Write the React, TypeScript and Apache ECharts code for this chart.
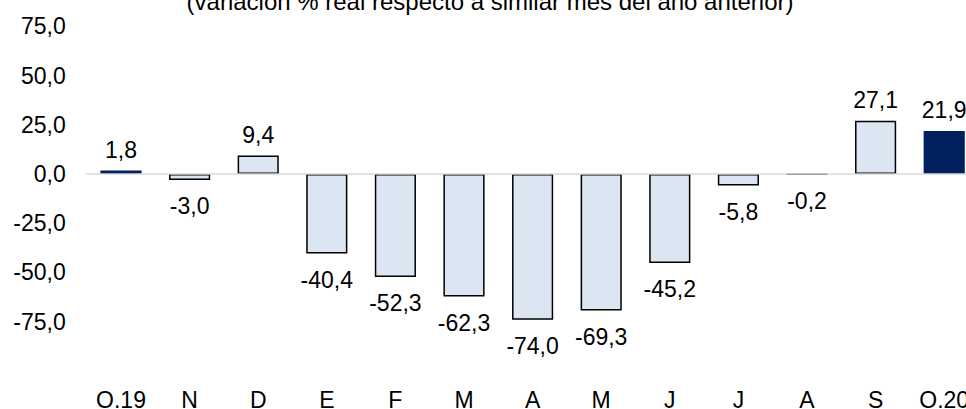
import React, { useEffect, useRef } from 'react';
import * as echarts from 'echarts';

const chartTitle = '(variación % real respecto a similar mes del año anterior)';
const categories = ['O.19', 'N', 'D', 'E', 'F', 'M', 'A', 'M', 'J', 'J', 'A', 'S', 'O.20'];
const values = [1.8, -3.0, 9.4, -40.4, -52.3, -62.3, -74.0, -69.3, -45.2, -5.8, -0.2, 27.1, 21.9];
const highlightedIndexes = [0, 12];
const yMin = -75;
const yMax = 75;
const yInterval = 25;

const FONT = '"Liberation Sans", Arial, Helvetica, sans-serif';
const fmt = (v: number) => v.toFixed(1).replace('.', ',');

export default function App() {
  const ref = useRef<HTMLDivElement>(null);
  useEffect(() => {
    if (!ref.current) return;
    const chart = echarts.init(ref.current, undefined, { renderer: 'svg' });
    chart.setOption({
      animation: false,
      backgroundColor: '#ffffff',
      textStyle: { fontFamily: FONT },
      grid: {
        left: 86.7,
        top: 26.4,
        width: 891.8,
        height: 295.2,
        containLabel: false,
        outerBoundsMode: 'none',
      },
      graphic: [
        {
          type: 'text',
          x: 490,
          y: 1.6,
          style: {
            text: chartTitle,
            fontSize: 24,
            fontFamily: FONT,
            fill: '#000',
            align: 'center',
            verticalAlign: 'middle',
          },
        },
      ],
      xAxis: [
        {
          type: 'category',
          data: categories,
          position: 'bottom',
          axisLine: { show: false, onZero: false },
          axisTick: { show: false },
          axisLabel: { margin: 67, color: '#000', fontSize: 23, fontFamily: FONT, interval: 0 },
          splitLine: { show: false },
        },
        {
          type: 'category',
          data: categories,
          position: 'bottom',
          z: 10,
          axisLine: { show: true, onZero: true, lineStyle: { color: '#d9d9d9', width: 1.5 } },
          axisTick: { show: false },
          axisLabel: { show: false },
          splitLine: { show: false },
        },
      ],
      yAxis: {
        type: 'value',
        min: yMin,
        max: yMax,
        interval: yInterval,
        axisLine: { show: false },
        axisTick: { show: false },
        splitLine: { show: false },
        axisLabel: {
          margin: 21,
          color: '#000',
          fontSize: 23,
          fontFamily: FONT,
          formatter: (v: number) => fmt(v),
        },
      },
      series: [
        {
          type: 'bar',
          xAxisIndex: 0,
          barWidth: '60%',
          data: values.map((v, i) => {
            const dark = highlightedIndexes.includes(i);
            return {
              value: v,
              itemStyle: dark
                ? { color: '#002060', borderWidth: 0 }
                : { color: '#dce6f2', borderColor: '#000', borderWidth: 1.5 },
              label: {
                position: v >= 0 ? 'top' : 'bottom',
                distance: v >= 0 ? 9 : 15,
              },
            };
          }),
          label: {
            show: true,
            color: '#000',
            fontSize: 23,
            fontFamily: FONT,
            formatter: (p: any) => fmt(p.value),
          },
        },
      ],
    });
    return () => chart.dispose();
  }, []);
  return (
    <div
      ref={ref}
      style={{ position: 'fixed', left: 0, top: 0, width: 966, height: 409, background: '#fff' }}
    />
  );
}
